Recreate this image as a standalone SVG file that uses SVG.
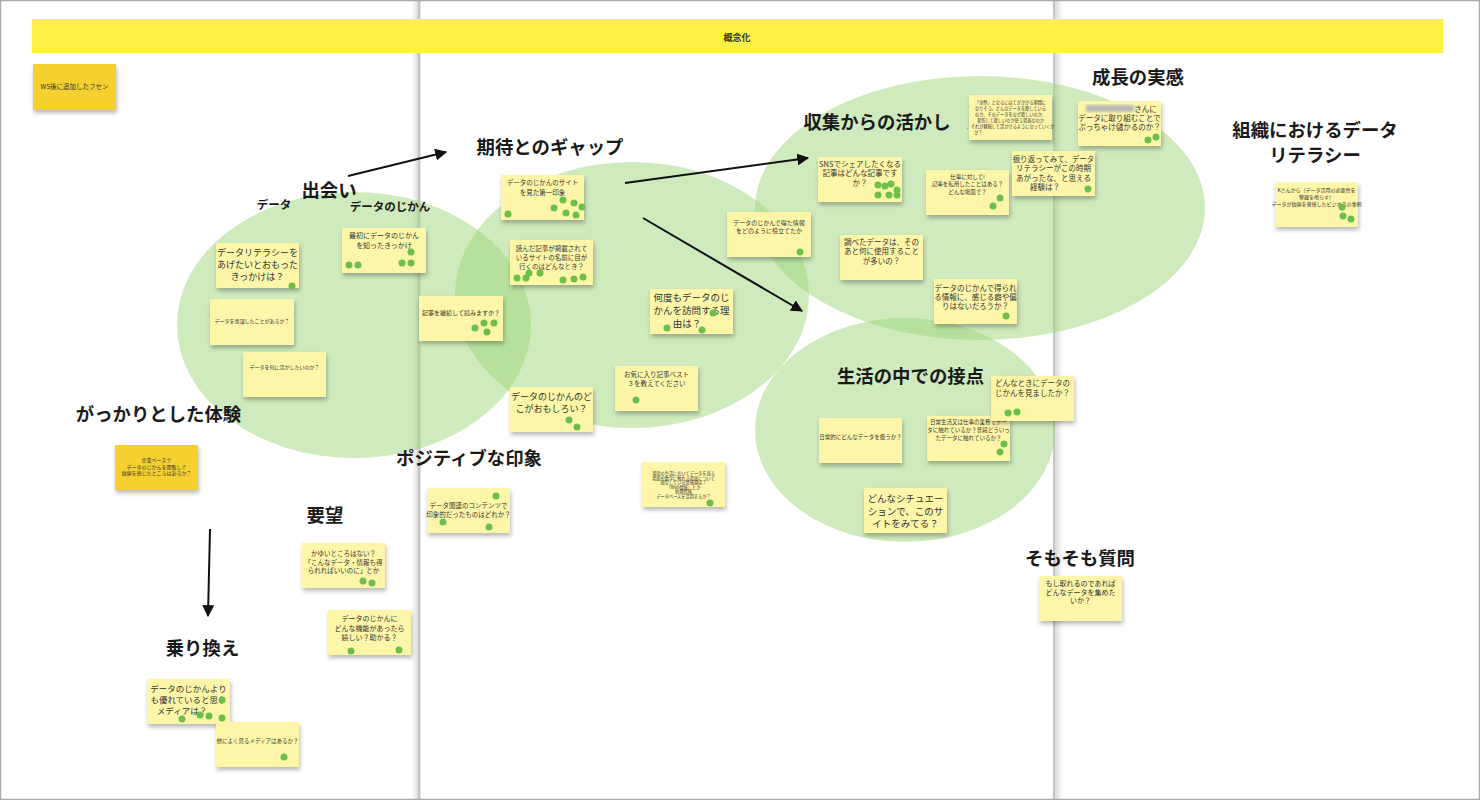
<svg xmlns="http://www.w3.org/2000/svg" width="1480" height="800" viewBox="0 0 1480 800">
<defs>
<style>
.bg{fill:#fff}
.ell{fill:#9fd67c;opacity:0.5}
.st{fill:#fdf6a9;filter:url(#sh)}
.so{fill:#f6d02e;filter:url(#sh)}
.dot{fill:#6cc04a}
.lb{font-family:"Noto Sans CJK JP","Noto Sans",sans-serif;font-weight:700;font-size:18.4px;fill:#1a1a1a;text-anchor:middle}
.lbs{font-family:"Noto Sans CJK JP","Noto Sans",sans-serif;font-weight:700;font-size:11.5px;fill:#1a1a1a;text-anchor:middle}
.t{font-family:"Noto Sans CJK JP","Noto Sans",sans-serif;fill:#333;text-anchor:middle}
.t4{font-size:4.2px}.t5{font-size:5px}.t55{font-size:5.5px}.t6{font-size:6px}.t65{font-size:6.5px}.t7{font-size:7px}.t75{font-size:7.5px}.t85{font-size:8.5px}.t9{font-size:9px}.t10{font-size:9.5px}
.ar{stroke:#111;stroke-width:2;fill:none;marker-end:url(#ah)}
</style>
<filter id="sh" x="-10%" y="-10%" width="120%" height="140%">
<feDropShadow dx="1" dy="3" stdDeviation="2" flood-color="#000" flood-opacity="0.28"/>
</filter>
<filter id="bl"><feGaussianBlur stdDeviation="1.5"/></filter>
<marker id="ah" viewBox="0 0 10 10" refX="9" refY="5" markerWidth="6" markerHeight="6" orient="auto" markerUnits="strokeWidth">
<path d="M0,0 L10,5 L0,10 z" fill="#111"/>
</marker>
<linearGradient id="g1" x1="0" x2="1" y1="0" y2="0"><stop offset="0" stop-color="#fff" stop-opacity="0"/><stop offset="1" stop-color="#d8d8d8"/></linearGradient>
<linearGradient id="g2" x1="0" x2="1" y1="0" y2="0"><stop offset="0" stop-color="#d8d8d8"/><stop offset="1" stop-color="#fff" stop-opacity="0"/></linearGradient>
</defs>
<rect class="bg" x="0" y="0" width="1480" height="800"/>
<!-- page seams -->
<g id="seams">
<rect x="409" y="0" width="9" height="800" fill="url(#g1)"/>
<rect x="418" y="0" width="2.5" height="800" fill="#c6c6c6"/>
<rect x="1053" y="0" width="2.5" height="800" fill="#c6c6c6"/>
<rect x="1055.5" y="0" width="10" height="800" fill="url(#g2)"/>
</g>
<!-- banner -->
<g id="banner">
<rect x="32" y="19" width="1411" height="34" fill="#fef145"/>
<text x="737" y="40.5" style="font-family:'Noto Sans CJK JP',sans-serif;font-weight:700;font-size:9px;fill:#333;text-anchor:middle">概念化</text>
</g>
<!-- clusters -->
<g id="clusters">
<ellipse class="ell" cx="354" cy="325" rx="177" ry="133"/>
<ellipse class="ell" cx="632" cy="295" rx="177" ry="133"/>
<ellipse class="ell" cx="980" cy="208" rx="225" ry="132"/>
<ellipse class="ell" cx="905" cy="430" rx="150" ry="112"/>
</g>
<!-- connectors -->
<g id="connectors">
<line class="ar" x1="348" y1="176" x2="446" y2="152"/>
<line class="ar" x1="625" y1="183" x2="808" y2="158"/>
<line class="ar" x1="643" y1="218" x2="802" y2="311"/>
<line class="ar" x1="210" y1="529" x2="208" y2="616"/>
</g>
<!-- labels -->
<g id="labels">
<text class="lb" x="329" y="196.5">出会い</text>
<text class="lbs" x="274" y="209">データ</text>
<text class="lbs" x="390" y="211">データのじかん</text>
<text class="lb" x="550" y="153.5">期待とのギャップ</text>
<text class="lb" x="877" y="128.5">収集からの活かし</text>
<text class="lb" x="1138" y="83.5">成長の実感</text>
<text class="lb" x="1315" y="137">組織におけるデータ</text>
<text class="lb" x="1315" y="162">リテラシー</text>
<text class="lb" x="910.5" y="382.5">生活の中での接点</text>
<text class="lb" x="158.5" y="420.5">がっかりとした体験</text>
<text class="lb" x="469" y="464.5">ポジティブな印象</text>
<text class="lb" x="325" y="521.5">要望</text>
<text class="lb" x="202.5" y="654.5">乗り換え</text>
<text class="lb" x="1080" y="564.5">そもそも質問</text>
</g>
<!-- notes -->
<g id="n-ws"><rect class="so" x="33" y="64" width="83" height="46"/><text class="t t65" x="74.5" y="89">WS後に追加したフセン</text></g>
<g id="n1"><rect class="st" x="216" y="243" width="83" height="45"/><text class="t t9" x="257.5" y="256">データリテラシーを</text><text class="t t9" x="257.5" y="268">あげたいとおもった</text><text class="t t9" x="257.5" y="280">きっかけは？</text><circle class="dot" cx="292" cy="286" r="3.5"/></g>
<g id="n2"><rect class="st" x="210" y="299" width="84" height="46"/><text class="t t5" x="252" y="323">データを意識したことがあるか？</text></g>
<g id="n3"><rect class="st" x="243" y="352" width="83" height="45"/><text class="t t5" x="284.5" y="369">データを何に活かしたいのか？</text></g>
<g id="n4"><rect class="st" x="342" y="228" width="84" height="45"/><text class="t t7" x="384" y="237.5">最初にデータのじかん</text><text class="t t7" x="384" y="247.5">を知ったきっかけ</text><circle class="dot" cx="349" cy="265" r="3.5"/><circle class="dot" cx="358" cy="265" r="3.5"/><circle class="dot" cx="402" cy="263" r="3.5"/><circle class="dot" cx="411" cy="263" r="3.5"/><circle class="dot" cx="411" cy="252" r="3.5"/></g>
<g id="n5"><rect class="st" x="419" y="296" width="84" height="45"/><text class="t t6" x="461" y="315">記事を継続して読みますか？</text><circle class="dot" cx="475" cy="328" r="3.5"/><circle class="dot" cx="484" cy="323" r="3.5"/><circle class="dot" cx="494" cy="323" r="3.5"/><circle class="dot" cx="487" cy="332" r="3.5"/></g>
<g id="n6"><rect class="st" x="501" y="175" width="83" height="45"/><text class="t t65" x="542.5" y="184.5">データのじかんのサイト</text><text class="t t65" x="542.5" y="194.5">を見た第一印象</text><circle class="dot" cx="508" cy="214" r="3.5"/><circle class="dot" cx="554" cy="208" r="3.5"/><circle class="dot" cx="563" cy="200" r="3.5"/><circle class="dot" cx="574" cy="203" r="3.5"/><circle class="dot" cx="582" cy="207" r="3.5"/><circle class="dot" cx="566" cy="213" r="3.5"/><circle class="dot" cx="576" cy="215" r="3.5"/></g>
<g id="n7"><rect class="st" x="510" y="240" width="83" height="45"/><text class="t t65" x="551.5" y="250.5">読んだ記事が掲載されて</text><text class="t t65" x="551.5" y="259.5">いるサイトの名前に目が</text><text class="t t65" x="551.5" y="268.5">行くのはどんなとき？</text><circle class="dot" cx="517" cy="278" r="3.5"/><circle class="dot" cx="526" cy="278" r="3.5"/><circle class="dot" cx="529" cy="273" r="3.5"/><circle class="dot" cx="540" cy="273" r="3.5"/><circle class="dot" cx="563" cy="280" r="3.5"/><circle class="dot" cx="574" cy="279" r="3.5"/><circle class="dot" cx="583" cy="277" r="3.5"/></g>
<g id="n8"><rect class="st" x="650" y="289" width="83" height="45"/><text class="t t10" x="691.5" y="300.5">何度もデータのじ</text><text class="t t10" x="691.5" y="313.5">かんを訪問する理</text><text class="t t10" x="687" y="326.5">由は？</text><circle class="dot" cx="667" cy="328" r="3.5"/><circle class="dot" cx="713" cy="313" r="3.5"/><circle class="dot" cx="702" cy="330" r="3.5"/></g>
<g id="n9"><rect class="st" x="615" y="366" width="83" height="45"/><text class="t t65" x="656.5" y="376.5">お気に入り記事ベスト</text><text class="t t65" x="656.5" y="386">３を教えてください</text><circle class="dot" cx="636" cy="400" r="3.5"/></g>
<g id="n10"><rect class="st" x="510" y="387" width="83" height="45"/><text class="t t9" x="551.5" y="400">データのじかんのど</text><text class="t t9" x="551.5" y="412">こがおもしろい？</text><circle class="dot" cx="569" cy="420" r="3.5"/><circle class="dot" cx="577" cy="427" r="3.5"/></g>
<g id="n11"><rect class="st" x="727" y="212" width="84" height="45"/><text class="t t6" x="769" y="224.5">データのじかんで得た情報</text><text class="t t6" x="769" y="232.5">をどのように役立てたか</text><circle class="dot" cx="800" cy="252" r="3.5"/></g>
<g id="n12"><rect class="st" x="818" y="157" width="84" height="45"/><text class="t t75" x="860" y="166.5">SNSでシェアしたくなる</text><text class="t t75" x="860" y="176">記事はどんな記事です</text><text class="t t75" x="860" y="185.5">か？</text><circle class="dot" cx="878" cy="185" r="3.5"/><circle class="dot" cx="885" cy="186" r="3.5"/><circle class="dot" cx="891" cy="184" r="3.5"/><circle class="dot" cx="897" cy="190" r="3.5"/><circle class="dot" cx="878" cy="195" r="3.5"/><circle class="dot" cx="889" cy="195" r="3.5"/><circle class="dot" cx="897" cy="195" r="3.5"/></g>
<g id="n13"><rect class="st" x="926" y="170" width="83" height="45"/><text class="t t55" x="967.5" y="179">仕事に対して!</text><text class="t t55" x="967.5" y="186">記事を転用したことはある？</text><text class="t t55" x="967.5" y="194">どんな場面で？</text><circle class="dot" cx="1000" cy="198" r="3.5"/><circle class="dot" cx="993" cy="206" r="3.5"/></g>
<g id="n14"><rect class="st" x="840" y="235" width="83" height="45"/><text class="t t75" x="881.5" y="244.5">調べたデータは、その</text><text class="t t75" x="881.5" y="254">あと何に使用すること</text><text class="t t75" x="881.5" y="263.5">が多いの？</text></g>
<g id="n15"><rect class="st" x="934" y="279" width="83" height="45"/><text class="t t75" x="975.5" y="290.5">データのじかんで得られ</text><text class="t t75" x="975.5" y="299.5">る情報に、感じる癖や偏</text><text class="t t75" x="975.5" y="308.5">りはないだろうか？</text><circle class="dot" cx="1006" cy="316" r="3.5"/></g>
<g id="n16"><rect class="st" x="969" y="95" width="83" height="45"/><text class="t t4" x="1010.5" y="104">「全然」となるにはてがかかる期間に</text><text class="t t4" x="1010.5" y="110">なりそう。どんなデータを欲している</text><text class="t t4" x="1010.5" y="116">のか、そのデータをなぜ欲しいのか、</text><text class="t t4" x="1010.5" y="122">参照して欲しいのか使う場面なのか</text><text class="t t4" x="1010.5" y="128">、それが継続して活かせるようになっていくか</text><text class="t t4" x="974" y="134" style="text-anchor:start">か？</text></g>
<g id="n17"><rect class="st" x="1078" y="101" width="83" height="45"/><rect x="1086" y="105" width="48" height="7" fill="#b8b8b8" filter="url(#bl)"/><text class="t t75" x="1145.5" y="111.5">さんに</text><text class="t t75" x="1119.5" y="120.5">データに取り組むことで</text><text class="t t75" x="1119.5" y="129.5">ぶっちゃけ儲かるのか？</text><circle class="dot" cx="1148" cy="140" r="3.5"/><circle class="dot" cx="1156" cy="137" r="3.5"/></g>
<g id="n18"><rect class="st" x="1012" y="151" width="83" height="45"/><text class="t t75" x="1053.5" y="161.5">振り返ってみて、データ</text><text class="t t75" x="1053.5" y="170.5">リテラシーがこの時期</text><text class="t t75" x="1053.5" y="180.5">あがったな、と思える</text><text class="t t75" x="1045" y="190">経験は？</text><circle class="dot" cx="1088" cy="189" r="3.5"/></g>
<g id="n19"><rect class="st" x="819" y="418" width="83" height="45"/><text class="t t55" x="860.5" y="439">日常的にどんなデータを扱うか？</text></g>
<g id="n20"><rect class="st" x="927" y="416" width="83" height="45"/><text class="t t55" x="968.5" y="424">日常生活又は仕事の業務でデー</text><text class="t t55" x="968.5" y="432">タに触れているか？普段どういっ</text><text class="t t55" x="968.5" y="439.5">たデータに触れているか？</text><circle class="dot" cx="1004" cy="444" r="3.5"/><circle class="dot" cx="1000" cy="452" r="3.5"/></g>
<g id="n21"><rect class="st" x="991" y="376" width="83" height="45"/><text class="t t75" x="1032.5" y="385.5">どんなときにデータの</text><text class="t t75" x="1032.5" y="395.5">じかんを見ましたか？</text><circle class="dot" cx="1008" cy="413" r="3.5"/><circle class="dot" cx="1017" cy="412" r="3.5"/></g>
<g id="n22"><rect class="st" x="864" y="488" width="83" height="45"/><text class="t t10" x="905.5" y="501.5">どんなシチュエー</text><text class="t t10" x="905.5" y="514.5">ションで、このサ</text><text class="t t10" x="905.5" y="526.5">イトをみてる？</text></g>
<g id="n23"><rect class="so" x="115" y="445" width="83" height="45"/><text class="t t5" x="156.5" y="461.5">企業ベースで</text><text class="t t5" x="156.5" y="468.5">データのじかんを閲覧して</text><text class="t t5" x="156.5" y="475">価値を感じたところはあるか？</text></g>
<g id="n24"><rect class="st" x="302" y="543" width="83" height="45"/><text class="t t65" x="343.5" y="555.5">かゆいところはない？</text><text class="t t65" x="343.5" y="564.5">「こんなデータ・情報も得</text><text class="t t65" x="343.5" y="572.5">られればいいのに」とか</text><circle class="dot" cx="363" cy="581" r="3.5"/><circle class="dot" cx="372" cy="583" r="3.5"/></g>
<g id="n25"><rect class="st" x="328" y="610" width="83" height="45"/><text class="t t7" x="369.5" y="620.5">データのじかんに</text><text class="t t7" x="369.5" y="630.5">どんな機能があったら</text><text class="t t7" x="369.5" y="639.5">嬉しい？助かる？</text><circle class="dot" cx="351" cy="651" r="3.5"/><circle class="dot" cx="399" cy="650" r="3.5"/></g>
<g id="n26"><rect class="st" x="147" y="679" width="83" height="45"/><text class="t t85" x="188.5" y="691.5">データのじかんより</text><text class="t t85" x="188.5" y="702.5">も優れていると思う</text><text class="t t85" x="182" y="713.5">メディアは？</text><circle class="dot" cx="182" cy="719" r="3.5"/><circle class="dot" cx="200" cy="715" r="3.5"/><circle class="dot" cx="209" cy="716" r="3.5"/><circle class="dot" cx="222" cy="718" r="3.5"/><circle class="dot" cx="222" cy="700" r="3.5"/></g>
<g id="n27"><rect class="st" x="216" y="722" width="83" height="45"/><text class="t t55" x="257.5" y="743">他によく見るメディアはあるか？</text><circle class="dot" cx="284" cy="757" r="3.5"/></g>
<g id="n28"><rect class="st" x="427" y="488" width="83" height="45"/><text class="t t65" x="468.5" y="508">データ関連のコンテンツで</text><text class="t t65" x="468.5" y="516.5">印象的だったものはどれか？</text><circle class="dot" cx="496" cy="496" r="3.5"/><circle class="dot" cx="443" cy="522" r="3.5"/><circle class="dot" cx="489" cy="527" r="3.5"/></g>
<g id="n29"><rect class="st" x="642" y="462" width="83" height="45"/><text class="t t4" x="683.5" y="475">普段の生活においてデータを見る</text><text class="t t4" x="683.5" y="479.5">場面や数字に触れる場面について</text><text class="t t4" x="683.5" y="484">想定している情報源は？</text><text class="t t4" x="683.5" y="488.5">「Web情報」とか</text><text class="t t4" x="683.5" y="493">新聞情報</text><text class="t t4" x="683.5" y="497.5">データベースを活用するか？</text><circle class="dot" cx="710" cy="503" r="3.5"/></g>
<g id="n30"><rect class="st" x="1039" y="576" width="83" height="45"/><text class="t t7" x="1080.5" y="585.5">もし取れるのであれば</text><text class="t t7" x="1080.5" y="594.5">どんなデータを集めた</text><text class="t t7" x="1080.5" y="603">いか？</text></g>
<g id="n31"><rect class="st" x="1275" y="182" width="83" height="45"/><text class="t t5" x="1316.5" y="191.5">Kさんから（データ活用の必要性を</text><text class="t t5" x="1316.5" y="198.5">警鐘を鳴らす）</text><text class="t t5" x="1316.5" y="205.5">データが価値を発揮したビジネスの事例</text><circle class="dot" cx="1342" cy="207" r="3.5"/><circle class="dot" cx="1343" cy="216" r="3.5"/><circle class="dot" cx="1351" cy="219" r="3.5"/></g>
<rect x="0.5" y="0.5" width="1479" height="799" fill="none" stroke="#aaa" stroke-width="1.5"/>
</svg>
